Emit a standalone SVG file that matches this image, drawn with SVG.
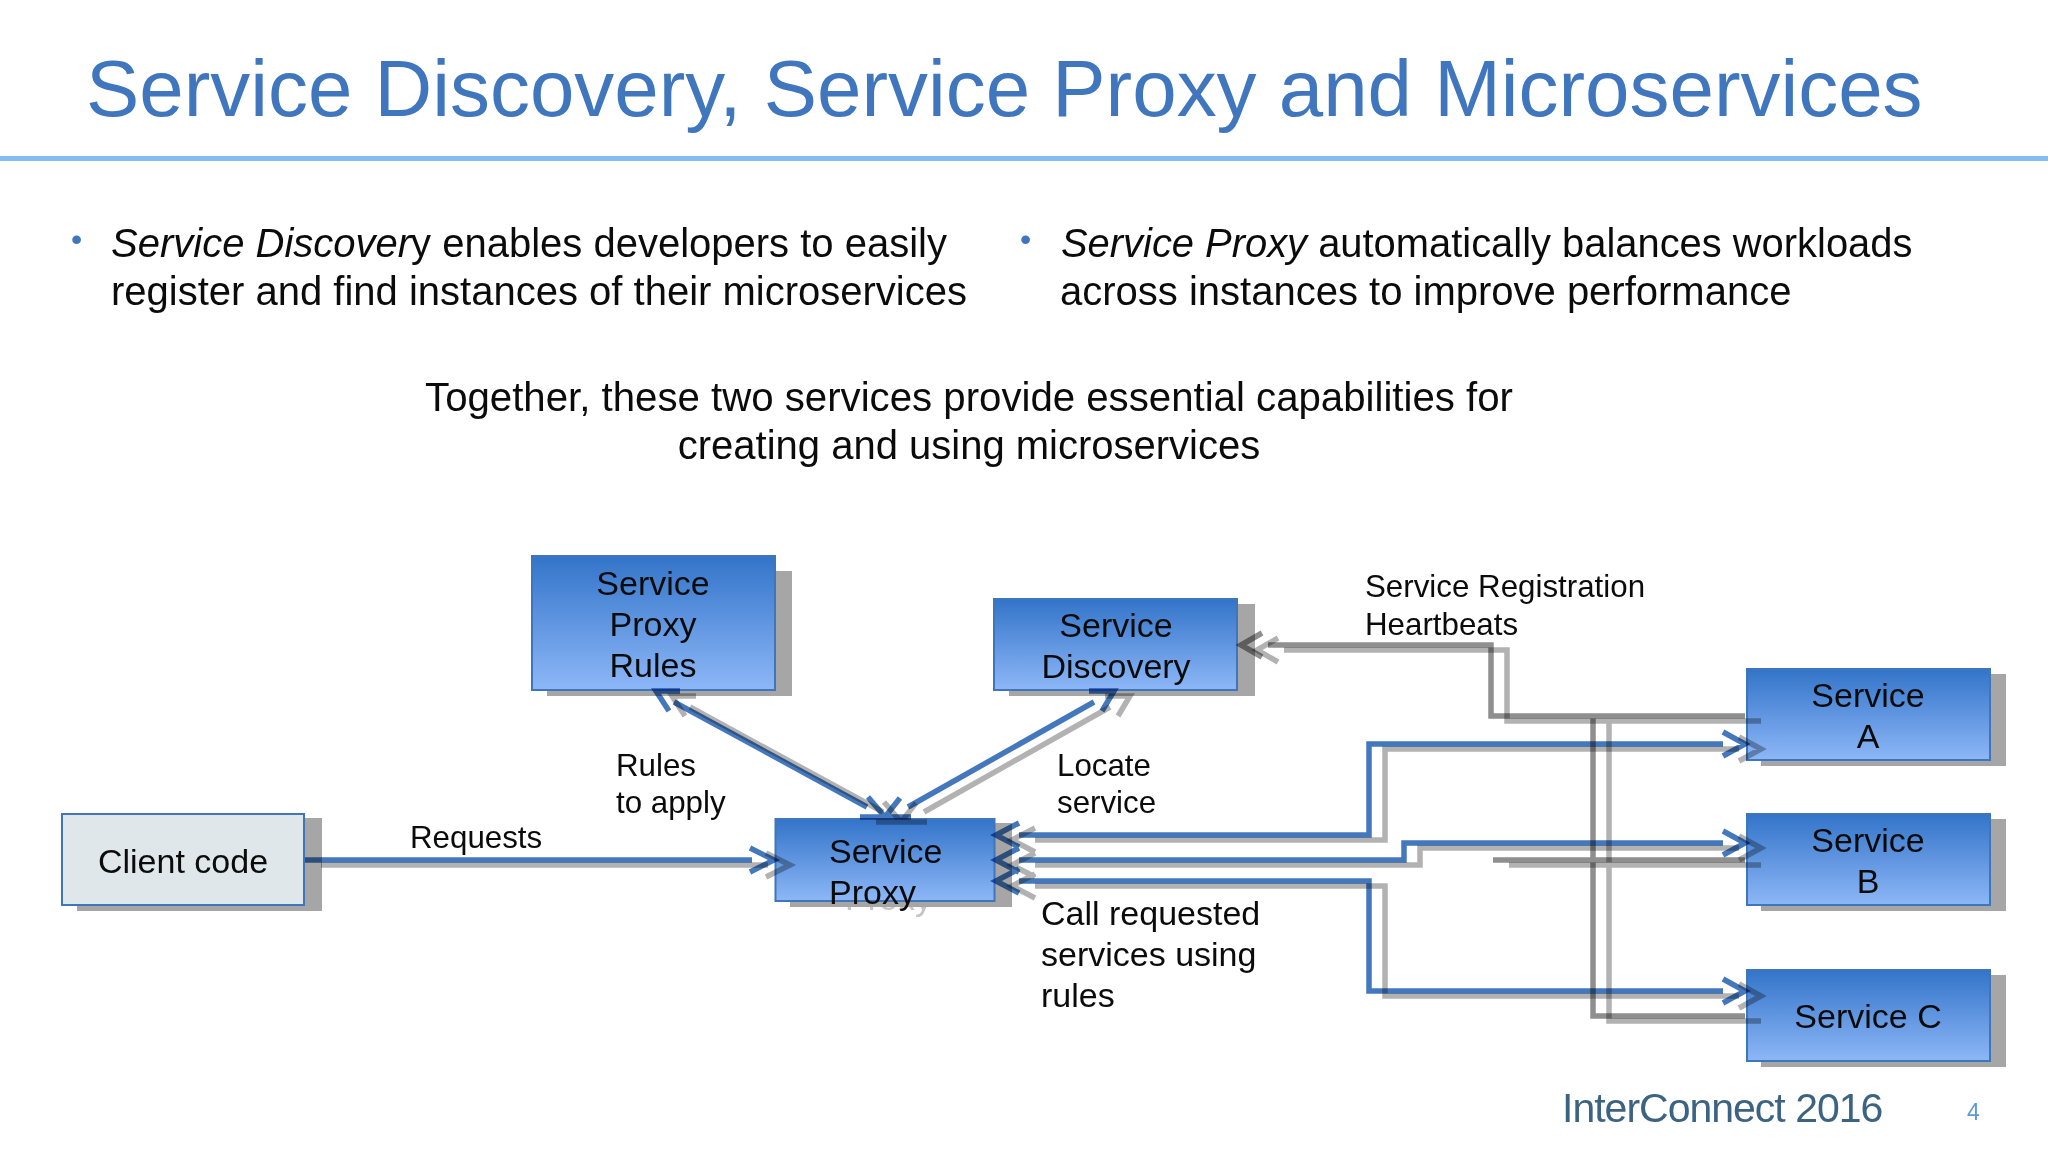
<svg xmlns="http://www.w3.org/2000/svg" width="2048" height="1152" viewBox="0 0 2048 1152">
<style>
text{font-family:"Liberation Sans",Arial,sans-serif;fill:#0b0b0b}
.title{font-size:79.9px;fill:#3f76bd}
.body{font-size:40px}
.bullet{font-size:32px;fill:#3f76bd}
.n{font-size:34px}
.c{text-anchor:middle}
.l{font-size:31.3px}
.box{fill:url(#g);stroke:#3f76bb;stroke-width:2}
.sh{fill:#a6a6a6}
.line{fill:none;stroke-width:5.5;stroke-linejoin:miter}
.blue{stroke:#4478bd;mix-blend-mode:multiply}
.gray{stroke:#8f8f8f;mix-blend-mode:multiply}
.shadow{stroke:#000;stroke-opacity:.3}
</style>
<defs>
<linearGradient id="g" x1="0" y1="0" x2="0" y2="1"><stop offset="0" stop-color="#3374c9"/><stop offset="1" stop-color="#8db7f7"/></linearGradient>
<path id="blueLines" d="M305 860H752M750 848L774 860L750 872M674 702L867 807M680 691H656L669 711M860 817H885L868 797M908 807L1094 702M1089 691H1114L1102 711M911 817H885L900 798M1019 835H1369V744H1723M1019 823L996 835L1019 847M1723 732L1745 744L1723 756M1019 860H1404V843H1723M1019 848L996 860L1019 872M1723 831L1745 843L1723 855M1019 881H1369V991H1723M1019 869L996 881L1019 893M1723 979L1745 991L1723 1003"/>
<path id="grayLines" d="M1745 716H1491V645H1268M1262 633L1241 645L1262 657M1593 716V1016H1745M1493 860H1745"/>
</defs>
<rect width="2048" height="1152" fill="#fff"/>
<text class="title" x="86" y="116">Service Discovery, Service Proxy and Microservices</text>
<rect x="0" y="156" width="2048" height="5" fill="#85bdf3"/>
<text class="bullet" x="71" y="250">•</text>
<text class="body" x="111" y="257"><tspan font-style="italic">Service Discover</tspan>y enables developers to easily</text>
<text class="body" x="111" y="305">register and find instances of their microservices</text>
<text class="bullet" x="1020" y="250">•</text>
<text class="body" x="1061" y="257" style="font-size:39.9px"><tspan font-style="italic">Service Proxy</tspan> automatically balances workloads</text>
<text class="body" x="1060" y="305">across instances to improve performance</text>
<text class="body c" x="969" y="411" style="font-size:40.2px">Together, these two services provide essential capabilities for</text>
<text class="body c" x="969" y="459">creating and using microservices</text>
<g id="node-rules">
<rect class="sh" x="547" y="571" width="245" height="125"/><rect class="box" x="532" y="556" width="243" height="134"/>
<text class="n c" x="653" y="595">Service</text><text class="n c" x="653" y="636">Proxy</text><text class="n c" x="653" y="677">Rules</text>
</g>
<g id="node-discovery">
<rect class="sh" x="1009" y="604" width="246" height="92"/><rect class="box" x="994" y="599" width="243" height="91"/>
<text class="n c" x="1116" y="637">Service</text><text class="n c" x="1116" y="678">Discovery</text>
</g>
<g id="node-proxy">
<text class="n" x="845" y="910" style="fill:#c4c4c4">Proxy</text>
<rect class="sh" x="790" y="823" width="222" height="84"/><rect class="box" x="775.500" y="819" width="219" height="82"/>
<text class="n" x="829" y="863">Service</text><text class="n" x="829" y="904">Proxy</text>
</g>
<g id="node-client">
<rect class="sh" x="77" y="818" width="245" height="93"/><rect x="62" y="814" width="242" height="91" fill="#e0e7ea" stroke="#3f76bb" stroke-width="2"/>
<text class="n c" x="183" y="873">Client code</text>
</g>
<g id="node-a">
<rect class="sh" x="1761" y="674" width="245" height="92"/><rect class="box" x="1747" y="669" width="243" height="91"/>
<text class="n c" x="1868" y="707">Service</text><text class="n c" x="1868" y="748">A</text>
</g>
<g id="node-b">
<rect class="sh" x="1761" y="819" width="245" height="92"/><rect class="box" x="1747" y="814" width="243" height="91"/>
<text class="n c" x="1868" y="852">Service</text><text class="n c" x="1868" y="893">B</text>
</g>
<g id="node-c">
<rect class="sh" x="1761" y="975" width="245" height="92"/><rect class="box" x="1747" y="970" width="243" height="91"/>
<text class="n c" x="1868" y="1028">Service C</text>
</g>
<g id="connectors">
<use href="#grayLines" class="line shadow" transform="translate(16,5)"/>
<use href="#blueLines" class="line shadow" transform="translate(16,5)"/>
<use href="#grayLines" class="line gray"/>
<use href="#blueLines" class="line blue"/>
</g>
<text class="l" x="410" y="848">Requests</text>
<text class="l" x="616" y="776">Rules</text><text class="l" x="616" y="813">to apply</text>
<text class="l" x="1057" y="776">Locate</text><text class="l" x="1057" y="813">service</text>
<text class="n" x="1041" y="925">Call requested</text><text class="n" x="1041" y="966">services using</text><text class="n" x="1041" y="1007">rules</text>
<text class="l" x="1365" y="597">Service Registration</text><text class="l" x="1365" y="635">Heartbeats</text>
<text x="1562" y="1122" style="font-size:41px;fill:#3c6482;letter-spacing:-1px">InterConnect 2016</text>
<text x="1967" y="1120" style="font-size:23px;fill:#5b9bd5">4</text>
</svg>
